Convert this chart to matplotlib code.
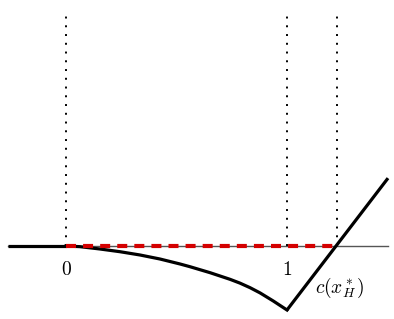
import matplotlib.pyplot as plt

plt.rcParams['mathtext.fontset'] = 'cm'

# values (data units: 0 and 1 on the axis)
x_left, x_right = -0.262, 1.457
c_star = 1.226
curve_x = [0.0, 0.063, 0.154, 0.244, 0.335, 0.425, 0.516, 0.561, 0.652,
           0.742, 0.787, 0.833, 0.878, 0.938, 1.0]
curve_y = [0.0, -0.003, -0.0136, -0.0258, -0.0407, -0.0588, -0.0814, -0.0937,
           -0.1208, -0.1507, -0.1679, -0.1887, -0.2122, -0.2489, -0.2896]
right_y = 0.307
vlines_x = [0.0, 1.0, c_star]
vline_top = 1.068
tick_labels = {0.0: "$0$", 1.0: "$1$"}

fig = plt.figure(figsize=(3.94, 3.19), dpi=100)
ax = fig.add_axes([0, 0, 1, 1])
ax.set_xlim(-66 / 221, 328 / 221)
ax.set_ylim(-73 / 221, 246 / 221)
ax.axis("off")

# thin horizontal axis
ax.plot([x_left, x_right], [0, 0], color="#555555", lw=1.0, zorder=1)

# dotted verticals
for xv in vlines_x:
    ax.plot([xv, xv], [0, vline_top], color="black", lw=1.4,
            linestyle=(0, (1, 3.5)), zorder=1)

# thick black function
ax.plot([x_left, 0.0], [0, 0], color="black", lw=2.3, solid_capstyle="butt", zorder=3)
ax.plot(curve_x, curve_y, color="black", lw=2.3, solid_joinstyle="round", zorder=3)
ax.plot([1.0, x_right], [curve_y[-1], right_y], color="black", lw=2.3,
        solid_capstyle="butt", zorder=3)

# red dashed segment
ax.plot([0.0, c_star], [0, 0], color="#d40000", lw=3.0,
        linestyle=(0, (2.4, 1.7)), zorder=4)

for xv, lab in tick_labels.items():
    ax.text(xv, -0.108, lab, ha="center", va="center", fontsize=14)
ax.text(1.127, -0.19, r"$c(x^*_H)$", ha="left", va="center", fontsize=14)

fig.savefig("out.png", dpi=100)
